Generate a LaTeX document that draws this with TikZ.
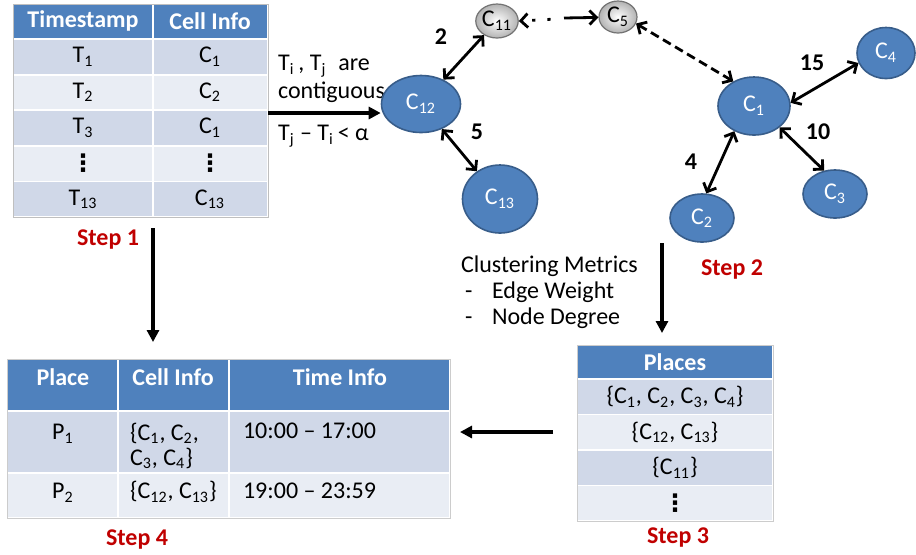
\documentclass[tikz,border=0pt]{standalone}
\usepackage{fontspec}
\setmainfont{Carlito}
\newfontfamily\symfont{DejaVu Sans}
\usepackage{xcolor}
\definecolor{hdrblue}{RGB}{79,129,189}
\definecolor{rowd}{RGB}{208,216,232}
\definecolor{rowl}{RGB}{233,237,244}
\definecolor{nodeline}{RGB}{56,93,138}
\definecolor{stepred}{RGB}{192,0,0}
\usepackage{tikz}
\usetikzlibrary{shapes.geometric,arrows.meta}
\newcommand{\Tt}[1]{T\textsubscript{#1}}
\newcommand{\Cc}[1]{C\textsubscript{#1}}
\newcommand{\vdts}{{\symfont\bfseries ⋮}}
\newcommand{\cellbox}[5]{\draw[fill=#1,draw=white,line width=0.9pt] (#2,#3) rectangle (#4,#5);}
\tikzset{
  hdrtxt/.style={text=white,font=\fontsize{12}{14}\selectfont\bfseries},
  steplbl/.style={text=stepred,font=\fontsize{12}{14}\selectfont\bfseries},
  wlbl/.style={font=\fontsize{12}{14}\selectfont\bfseries},
  blob/.style={ellipse,inner sep=0pt,fill=hdrblue,draw=nodeline,line width=0.8pt,text=white},
  gblob/.style={ellipse,inner sep=0pt,inner color=white,outer color=black!30,draw=black!55,line width=0.6pt},
  barb/.tip={Straight Barb[length=3.5pt,width=7pt]},
  link/.style={barb-barb,line width=1.4pt},
  flow/.style={-{Triangle[length=6pt,width=6pt]},line width=1.6pt}
}

\begin{document}
\begin{tikzpicture}[x=0.5pt,y=-0.5pt,font=\fontsize{12}{14}\selectfont]
\useasboundingbox (0,0) rectangle (916,554);
% ---- step 1: trace table ----
\cellbox{hdrblue}{13}{4}{153}{39}
\cellbox{hdrblue}{153}{4}{268}{39}
\node[hdrtxt] (tsh) at (83,21) {Timestamp};
\node[hdrtxt] (cih) at (210,21) {Cell Info};
\foreach \f/\a/\b [count=\k] in {rowd/\Tt{1}/\Cc{1},rowl/\Tt{2}/\Cc{2},rowd/\Tt{3}/\Cc{1},rowl/\vdts/\vdts,rowd/\Tt{13}/\Cc{13}}{
  \pgfmathsetmacro{\yt}{39+(\k-1)*35.6}
  \cellbox{\f}{13}{\yt}{153}{\yt+35.6}
  \cellbox{\f}{153}{\yt}{268}{\yt+35.6}
  \node[inner sep=0.5pt] (ts\k) at (83,\yt+17.8) {\a};
  \node[inner sep=0.5pt] (ci\k) at (210,\yt+17.8) {\b};}
\draw[black!25,line width=0.4pt] (13,4) rectangle (268,217);
\node[steplbl] (st1) at (108,240) {Step 1};
\coordinate (t1out) at (268,113);
\node[anchor=west,align=left] (contig) at (271,79) {\Tt{i}\,, \Tt{j}\enspace are\\contiguous};
\node[anchor=west] (gap) at (271,136) {\Tt{j} -- \Tt{i}\,< α};
% ---- step 2: cell graph ----
\node[gblob,minimum width=21pt,minimum height=17pt] (c11) at (497,21) {\Cc{11}};
\node[gblob,minimum width=19pt,minimum height=16pt] (c5) at (618,17) {\Cc{5}};
\node[blob,minimum width=39.5pt,minimum height=28.5pt] (c12) at (421,104) {\Cc{12}};
\node[blob,minimum width=37.5pt,minimum height=34pt] (c13) at (500,199) {\Cc{13}};
\node[blob,minimum width=36pt,minimum height=29pt] (c1) at (754,106) {\Cc{1}};
\node[blob,minimum width=29pt,minimum height=25.5pt] (c4) at (886,53) {\Cc{4}};
\node[blob,minimum width=32pt,minimum height=24pt] (c2) at (702,218) {\Cc{2}};
\node[blob,minimum width=32pt,minimum height=24pt] (c3) at (835,194) {\Cc{3}};
\draw[flow] (t1out) -- (t1out -| c12.west);
\draw[link] (c11) -- (c12);
\draw[link] (c12) -- (c13);
\coordinate (gapa) at (556,19);
\coordinate (gapb) at (564,18);
\draw[barb-,line width=1.4pt,dash pattern=on 0pt off 5pt on 1.6pt off 6pt on 1.6pt off 20pt] (c11.east) -- (gapa);
\draw[-barb,line width=1.4pt] (gapb) -- (c5);
\draw[link,dash pattern=on 4.5pt off 2.5pt] (c5.-20) -- (c1.130);
\draw[link] (c1.5) -- (c4.200);
\draw[link] (c1.-40) -- (c3.115);
\draw[link] (c1.-128) -- (c2.80);
\node[wlbl] (w2) at (441,37) {2};
\node[wlbl] (w5) at (477,132) {5};
\node[wlbl] (w15) at (812,63) {15};
\node[wlbl] (w10) at (818,132) {10};
\node[wlbl] (w4) at (691,162) {4};
\node[steplbl] (st2) at (732,270) {Step 2};
\node[anchor=north west,align=left,font=\fontsize{12}{13}\selectfont] (metrics) at (454,249)
  {Clustering Metrics\\\makebox[15.5pt][l]{\,-}Edge Weight\\\makebox[15.5pt][l]{\,-}Node Degree};
\coordinate (d2a) at (662,243);
\coordinate (d2b) at (662,333);
\draw[flow] (d2a) -- (d2b);
% ---- step 3: places ----
\cellbox{hdrblue}{577}{345}{773}{379}
\node[hdrtxt] (plh) at (675,362) {Places};
\foreach \f/\a [count=\k] in {rowd/{\{\Cc{1}, \Cc{2}, \Cc{3}, \Cc{4}\}},rowl/{\{\Cc{12}, \Cc{13}\}},rowd/{\{\Cc{11}\}},rowl/\vdts}{
  \pgfmathsetmacro{\yt}{379+(\k-1)*35.5}
  \cellbox{\f}{577}{\yt}{773}{\yt+35.5}
  \node[inner sep=0.5pt] (pl\k) at (675,\yt+17.7) {\a};}
\draw[black!20,line width=0.4pt] (577,345) rectangle (773,521);
\node[steplbl] (st3) at (678,538) {Step 3};
\coordinate (d3a) at (553,432);
\coordinate (d3b) at (460,432);
\draw[flow] (d3a) -- (d3b);
% ---- step 4: place table ----
\coordinate (d1a) at (153,228);
\coordinate (d1b) at (153,342);
\draw[flow] (d1a) -- (d1b);
\cellbox{hdrblue}{7}{359}{118}{411}
\cellbox{hdrblue}{118}{359}{229}{411}
\cellbox{hdrblue}{229}{359}{450}{411}
\cellbox{rowd}{7}{411}{118}{473}
\cellbox{rowd}{118}{411}{229}{473}
\cellbox{rowd}{229}{411}{450}{473}
\cellbox{rowl}{7}{473}{118}{518}
\cellbox{rowl}{118}{473}{229}{518}
\cellbox{rowl}{229}{473}{450}{518}
\draw[black!20,line width=0.4pt] (7,359) rectangle (450,518);
\node[hdrtxt] (ph) at (63,377) {Place};
\node[hdrtxt] (ch) at (173,377) {Cell Info};
\node[hdrtxt] (th) at (340,377) {Time Info};
\node (p1) at (63,434) {P\textsubscript{1}};
\node[anchor=west,align=left,font=\fontsize{12}{12.5}\selectfont] (p1c) at (123,446) {\{\Cc{1}, \Cc{2},\\\Cc{3}, \Cc{4}\}};
\node[anchor=west] (p1t) at (236,431) {10:00 -- 17:00};
\node (p2) at (63,493) {P\textsubscript{2}};
\node[anchor=west] (p2c) at (123,492) {\{\Cc{12}, \Cc{13}\}};
\node[anchor=west] (p2t) at (236,491) {19:00 -- 23:59};
\node[steplbl] (st4) at (137,540) {Step 4};
\end{tikzpicture}
\end{document}
